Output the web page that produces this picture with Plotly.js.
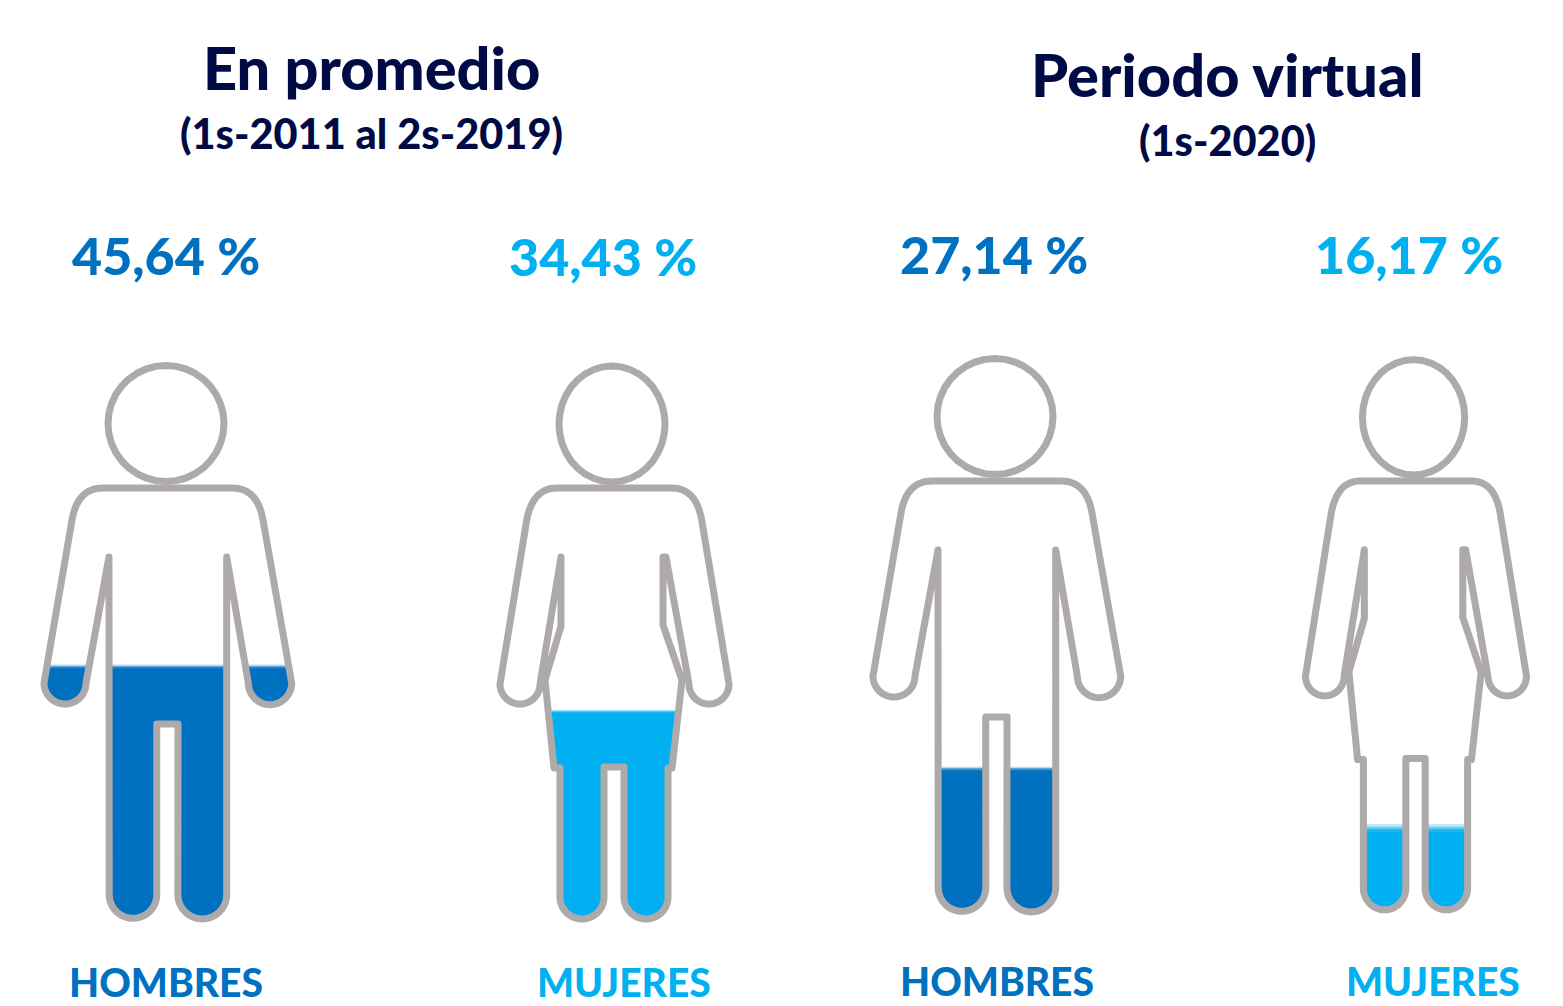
<!DOCTYPE html>
<html lang="es">
<head>
<meta charset="utf-8">
<script src="https://cdn.plot.ly/plotly-3.0.1.min.js"></script>
<style>
html,body{margin:0;padding:0;background:#fff;overflow:hidden}
path.js-line{stroke-linejoin:round!important;stroke-linecap:round!important}
</style>
</head>
<body>
<div id="chart" style="width:1563px;height:1006px"></div>
<script>
// ---- chart data ----
const categories = ["HOMBRES", "MUJERES", "HOMBRES", "MUJERES"];
const percentLabels = ["45,64 %", "34,43 %", "27,14 %", "16,17 %"];
// share of each figure's height that is visibly filled in the picture
const filledShare = [45.64, 37.6, 26.1, 15.1];
const periods = ["En promedio", "Periodo virtual"];
const periodRanges = ["(1s-2011 al 2s-2019)", "(1s-2020)"];

// ---- layout and styles ----
const NAVY = "#000b45", MEN = "#0070c0", WOMEN = "#00b0f0", GREY = "#aeaaaa";
const figureColor = [MEN, WOMEN, MEN, WOMEN];
const figureKind = ["man", "woman", "man", "woman"];
const figureMove = [
  p => [p[0], p[1]],
  p => [p[0], p[1]],
  p => [p[0] + 829, p[1] - 7],
  p => [1415.5 + (p[0] - 614) * 0.965, 481 + (p[1] - 488) * 0.995]
];
const edgeSoftness = [4, 3, 4, 8];
const percentPos = [[166, 255], [603, 256], [994, 254], [1409, 254]];
const labelPos = [[166, 982], [624, 982], [997, 981], [1433, 981]];

function arc(cx, cy, r, a0, a1, ry) {
  const out = [];
  for (let i = 0; i <= 36; i++) {
    const a = a0 + (a1 - a0) * i / 36;
    out.push([cx + r * Math.cos(a), cy + (ry || r) * Math.sin(a)]);
  }
  return out;
}
function curve(p0, c, p1) {
  const out = [];
  for (let i = 0; i <= 16; i++) {
    const t = i / 16;
    out.push([
      (1 - t) * (1 - t) * p0[0] + 2 * t * (1 - t) * c[0] + t * t * p1[0],
      (1 - t) * (1 - t) * p0[1] + 2 * t * (1 - t) * c[1] + t * t * p1[1]
    ]);
  }
  return out;
}
const PI = Math.PI;
const templates = {
  man: {
    head: arc(166, 423.5, 58, 0, 2 * PI),
    top: 363, bottom: 921.5,
    body: [].concat(
      [[103, 488]],
      curve([232, 488], [257.4, 488], [263, 520]),
      arc(270, 683, 21.7, 0, PI),
      [[226.7, 557], [226.7, 894.5]],
      arc(202.3, 894.5, 24.4, 0, PI),
      [[178, 724], [156.7, 724]],
      arc(133, 894.5, 23.8, 0, PI),
      [[109, 557]],
      arc(65, 683, 21, 0, PI),
      curve([72, 520], [77.5, 488], [103, 488])
    )
  },
  woman: {
    head: arc(612, 424, 53, 0, 2 * PI, 58),
    top: 363, bottom: 921,
    body: [].concat(
      [[556.7, 488]],
      curve([671.7, 488], [696, 488], [701.7, 520]),
      arc(709, 684, 20, 0, PI),
      [[666, 557], [663, 557], [663, 625], [682, 680], [672, 768], [668, 768]],
      arc(646, 897, 22, 0, PI),
      [[624, 767], [604, 767]],
      arc(582, 897, 22, 0, PI),
      [[560, 768], [554, 768], [545, 680], [561, 626], [561, 557]],
      arc(520, 684, 20, 0, PI),
      curve([526.7, 520], [533, 488], [556.7, 488])
    )
  }
};

// keep the part of a closed outline that lies below a horizontal level
function clipBelow(poly, level) {
  const out = [];
  for (let i = 0; i < poly.length; i++) {
    const a = poly[i], b = poly[(i + 1) % poly.length];
    const aIn = a[1] >= level, bIn = b[1] >= level;
    if (aIn) out.push(a);
    if (aIn !== bIn) {
      const t = (level - a[1]) / (b[1] - a[1]);
      out.push([a[0] + t * (b[0] - a[0]), level]);
    }
  }
  return out;
}
function polyTrace(points, extra) {
  const closed = points.concat([points[0]]);
  return Object.assign({
    type: "scatter", mode: "lines",
    x: closed.map(p => p[0]), y: closed.map(p => p[1]),
    hoverinfo: "skip", showlegend: false
  }, extra);
}

const traces = [];
categories.forEach((name, i) => {
  const t = templates[figureKind[i]];
  const move = figureMove[i];
  const body = t.body.map(move);
  const head = t.head.map(move);
  const top = move([0, t.top])[1], bottom = move([0, t.bottom])[1];
  const level = bottom - (bottom - top) * filledShare[i] / 100;
  const soft = edgeSoftness[i];
  [[-0.5, 0.25], [-0.17, 0.5], [0.17, 0.75], [0.5, 1]].forEach(step => {
    traces.push(polyTrace(clipBelow(body, level + soft * step[0]), {
      fill: "toself", fillcolor: figureColor[i], opacity: step[1],
      line: {width: 0, color: figureColor[i], simplify: false}, name: name
    }));
  });
  traces.push(polyTrace(body, {line: {color: GREY, width: 7, simplify: false}, name: name}));
  traces.push(polyTrace(head, {line: {color: GREY, width: 7, simplify: false}, name: name}));
});

function label(text, pos, size, color) {
  return {
    text: text, x: pos[0], y: pos[1], xref: "x", yref: "y",
    xanchor: "center", yanchor: "middle", showarrow: false,
    font: {family: "Lato, 'Noto Sans', sans-serif", size: size, color: color, weight: 900}
  };
}
const annotations = [
  label(periods[0], [371, 67], 59.5, NAVY),
  label(periodRanges[0], [371, 133], 41.5, NAVY),
  label(periods[1], [1227, 74], 59.5, NAVY),
  label(periodRanges[1], [1227, 140], 41.5, NAVY)
];
categories.forEach((name, i) => {
  annotations.push(label(percentLabels[i], percentPos[i], 52, figureColor[i]));
  annotations.push(label(name, labelPos[i], 39, figureColor[i]));
});

const axis = {visible: false, fixedrange: true, showgrid: false, zeroline: false};
Plotly.newPlot("chart", traces, {
  width: 1563, height: 1006,
  margin: {l: 0, r: 0, t: 0, b: 0},
  paper_bgcolor: "#ffffff", plot_bgcolor: "#ffffff",
  xaxis: Object.assign({range: [0, 1563]}, axis),
  yaxis: Object.assign({range: [1006, 0]}, axis),
  annotations: annotations,
  showlegend: false
}, {displayModeBar: false, staticPlot: true});
</script>
</body>
</html>
